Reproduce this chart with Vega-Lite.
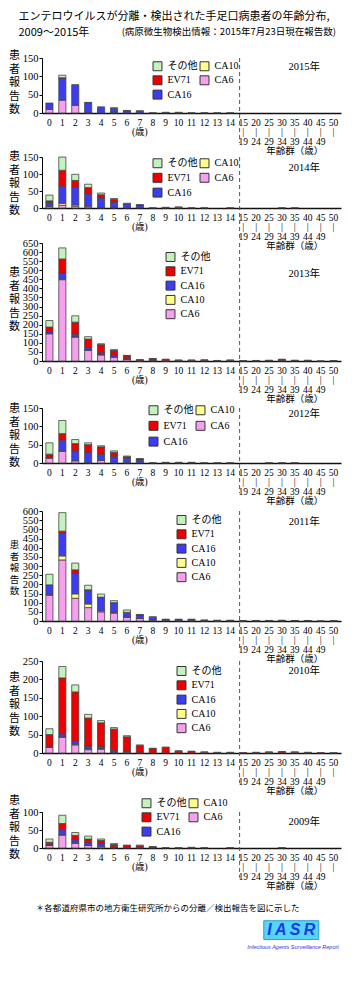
{
"$schema": "https://vega.github.io/schema/vega-lite/v6.json",
"background": "white",
"padding": {"left": 8, "top": 11, "right": 5, "bottom": 5},
"config": {
  "view": {"stroke": null},
  "font": "Liberation Serif, Noto Sans CJK JP",
  "axis": {"labelOverlap": false},
  "axisX": {"title": null, "labelAngle": 0, "labelFont": "Liberation Serif, Noto Sans CJK JP", "labelFontSize": 9.5, "labelLineHeight": 9.5, "labelPadding": 4, "labelBaseline": "top", "ticks": false, "domainColor": "#111", "domainWidth": 1.5, "labelOverlap": false, "labelBound": false, "labelFlush": false, "labelColor": "#000"},
  "axisY": {"grid": false, "labelFont": "Liberation Serif", "labelFontSize": 10.5, "labelColor": "#000", "labelOverlap": false, "labelFlush": false, "tickSize": 3, "tickColor": "#000", "labelPadding": 1, "domainColor": "#000", "titleAngle": 0, "titleX": -28, "titleAlign": "center", "titleBaseline": "top", "titleLineHeight": 13.5, "titleFont": "Noto Sans CJK JP", "titleFontSize": 11, "titleFontWeight": "normal", "titleColor": "#000"},
  "legend": {"orient": "none", "symbolType": "square", "symbolSize": 80, "symbolStrokeColor": "#333", "symbolStrokeWidth": 1, "symbolOpacity": 1, "labelFont": "Liberation Serif, Noto Sans CJK JP", "labelFontSize": 10, "labelColor": "#000", "labelOffset": 5, "rowPadding": 0.3, "columnPadding": 0, "padding": 0}
},
"title": {"text": ["エンテロウイルスが分離・検出された手足口病患者の年齢分布,", "2009〜2015年"], "anchor": "start", "font": "Noto Sans CJK JP", "fontSize": 11, "fontWeight": "normal", "lineHeight": 16, "color": "#000", "dx": 10, "offset": -11},
"data": {"values": [
{"year":2015,"age":"0","CA6":10,"CA10":0,"CA16":16,"EV71":0,"その他":1},
{"year":2015,"age":"1","CA6":35,"CA10":0,"CA16":60,"EV71":1,"その他":7},
{"year":2015,"age":"2","CA6":21,"CA10":0,"CA16":55,"EV71":0,"その他":1},
{"year":2015,"age":"3","CA6":1,"CA10":0,"CA16":27,"EV71":0,"その他":1},
{"year":2015,"age":"4","CA6":0,"CA10":0,"CA16":15,"EV71":0,"その他":2},
{"year":2015,"age":"5","CA6":1,"CA10":0,"CA16":12,"EV71":0,"その他":1},
{"year":2015,"age":"6","CA6":0,"CA10":0,"CA16":6,"EV71":0,"その他":1},
{"year":2015,"age":"7","CA6":0,"CA10":0,"CA16":5,"EV71":0,"その他":1},
{"year":2015,"age":"8","CA6":0,"CA10":0,"CA16":0,"EV71":0,"その他":1},
{"year":2015,"age":"9","CA6":0,"CA10":0,"CA16":1,"EV71":0,"その他":1},
{"year":2015,"age":"10","CA6":0,"CA10":0,"CA16":1,"EV71":0,"その他":1},
{"year":2015,"age":"11","CA6":0,"CA10":0,"CA16":0,"EV71":0,"その他":1},
{"year":2015,"age":"12","CA6":0,"CA10":0,"CA16":0,"EV71":0,"その他":1},
{"year":2015,"age":"13","CA6":0,"CA10":0,"CA16":0,"EV71":0,"その他":1},
{"year":2015,"age":"14","CA6":0,"CA10":0,"CA16":0,"EV71":0,"その他":1},
{"year":2014,"age":"0","CA6":4,"CA10":2,"CA16":10,"EV71":5,"その他":17},
{"year":2014,"age":"1","CA6":8,"CA10":6,"CA16":50,"EV71":47,"その他":39},
{"year":2014,"age":"2","CA6":5,"CA10":4,"CA16":52,"EV71":20,"その他":18},
{"year":2014,"age":"3","CA6":1,"CA10":4,"CA16":36,"EV71":19,"その他":10},
{"year":2014,"age":"4","CA6":1,"CA10":0,"CA16":28,"EV71":10,"その他":5},
{"year":2014,"age":"5","CA6":2,"CA10":0,"CA16":15,"EV71":8,"その他":3},
{"year":2014,"age":"6","CA6":0,"CA10":0,"CA16":12,"EV71":0,"その他":2},
{"year":2014,"age":"7","CA6":0,"CA10":0,"CA16":7,"EV71":2,"その他":1},
{"year":2014,"age":"8","CA6":0,"CA10":0,"CA16":0,"EV71":0,"その他":1},
{"year":2014,"age":"9","CA6":0,"CA10":0,"CA16":1,"EV71":0,"その他":1},
{"year":2014,"age":"10","CA6":0,"CA10":0,"CA16":0,"EV71":2,"その他":1},
{"year":2014,"age":"11","CA6":0,"CA10":0,"CA16":0,"EV71":0,"その他":1},
{"year":2014,"age":"12","CA6":0,"CA10":0,"CA16":0,"EV71":0,"その他":1},
{"year":2014,"age":"14","CA6":0,"CA10":0,"CA16":0,"EV71":0,"その他":1},
{"year":2014,"age":"30","CA6":0,"CA10":0,"CA16":0,"EV71":0,"その他":1},
{"year":2014,"age":"35","CA6":0,"CA10":0,"CA16":0,"EV71":0,"その他":1},
{"year":2013,"age":"0","CA6":150,"CA10":2,"CA16":10,"EV71":25,"その他":36},
{"year":2013,"age":"1","CA6":448,"CA10":4,"CA16":32,"EV71":78,"その他":61},
{"year":2013,"age":"2","CA6":132,"CA10":2,"CA16":14,"EV71":66,"その他":35},
{"year":2013,"age":"3","CA6":58,"CA10":1,"CA16":14,"EV71":48,"その他":13},
{"year":2013,"age":"4","CA6":34,"CA10":1,"CA16":11,"EV71":44,"その他":5},
{"year":2013,"age":"5","CA6":20,"CA10":0,"CA16":11,"EV71":28,"その他":3},
{"year":2013,"age":"6","CA6":8,"CA10":0,"CA16":5,"EV71":16,"その他":2},
{"year":2013,"age":"7","CA6":1,"CA10":0,"CA16":0,"EV71":5,"その他":2},
{"year":2013,"age":"8","CA6":2,"CA10":0,"CA16":0,"EV71":10,"その他":2},
{"year":2013,"age":"9","CA6":1,"CA10":0,"CA16":0,"EV71":7,"その他":2},
{"year":2013,"age":"10","CA6":0,"CA10":0,"CA16":0,"EV71":4,"その他":1},
{"year":2013,"age":"11","CA6":0,"CA10":0,"CA16":0,"EV71":4,"その他":1},
{"year":2013,"age":"12","CA6":0,"CA10":0,"CA16":0,"EV71":5,"その他":1},
{"year":2013,"age":"13","CA6":0,"CA10":0,"CA16":0,"EV71":2,"その他":1},
{"year":2013,"age":"14","CA6":0,"CA10":0,"CA16":0,"EV71":4,"その他":1},
{"year":2013,"age":"15","CA6":0,"CA10":0,"CA16":0,"EV71":1,"その他":1},
{"year":2013,"age":"20","CA6":0,"CA10":0,"CA16":0,"EV71":2,"その他":1},
{"year":2013,"age":"25","CA6":0,"CA10":0,"CA16":0,"EV71":3,"その他":1},
{"year":2013,"age":"30","CA6":2,"CA10":0,"CA16":0,"EV71":6,"その他":2},
{"year":2013,"age":"35","CA6":0,"CA10":0,"CA16":0,"EV71":3,"その他":1},
{"year":2013,"age":"40","CA6":0,"CA10":0,"CA16":0,"EV71":3,"その他":1},
{"year":2013,"age":"45","CA6":0,"CA10":0,"CA16":0,"EV71":0,"その他":1},
{"year":2013,"age":"50","CA6":0,"CA10":0,"CA16":0,"EV71":1,"その他":1},
{"year":2012,"age":"0","CA6":13,"CA10":0,"CA16":2,"EV71":9,"その他":31},
{"year":2012,"age":"1","CA6":32,"CA10":1,"CA16":29,"EV71":18,"その他":36},
{"year":2012,"age":"2","CA6":6,"CA10":0,"CA16":27,"EV71":20,"その他":11},
{"year":2012,"age":"3","CA6":1,"CA10":0,"CA16":28,"EV71":21,"その他":5},
{"year":2012,"age":"4","CA6":7,"CA10":0,"CA16":17,"EV71":20,"その他":3},
{"year":2012,"age":"5","CA6":0,"CA10":0,"CA16":17,"EV71":12,"その他":4},
{"year":2012,"age":"6","CA6":1,"CA10":0,"CA16":12,"EV71":4,"その他":2},
{"year":2012,"age":"7","CA6":0,"CA10":0,"CA16":8,"EV71":3,"その他":1},
{"year":2012,"age":"8","CA6":0,"CA10":0,"CA16":0,"EV71":0,"その他":1},
{"year":2012,"age":"9","CA6":0,"CA10":0,"CA16":1,"EV71":0,"その他":1},
{"year":2012,"age":"10","CA6":0,"CA10":0,"CA16":1,"EV71":0,"その他":1},
{"year":2012,"age":"11","CA6":0,"CA10":0,"CA16":1,"EV71":0,"その他":1},
{"year":2012,"age":"12","CA6":0,"CA10":0,"CA16":0,"EV71":0,"その他":1},
{"year":2012,"age":"13","CA6":0,"CA10":0,"CA16":0,"EV71":0,"その他":1},
{"year":2012,"age":"14","CA6":0,"CA10":0,"CA16":0,"EV71":0,"その他":1},
{"year":2012,"age":"25","CA6":0,"CA10":0,"CA16":0,"EV71":0,"その他":1},
{"year":2012,"age":"30","CA6":0,"CA10":0,"CA16":0,"EV71":0,"その他":1},
{"year":2012,"age":"35","CA6":0,"CA10":0,"CA16":0,"EV71":0,"その他":1},
{"year":2011,"age":"0","CA6":140,"CA10":4,"CA16":53,"EV71":0,"その他":58},
{"year":2011,"age":"1","CA6":333,"CA10":22,"CA16":124,"EV71":11,"その他":101},
{"year":2011,"age":"2","CA6":124,"CA10":24,"CA16":111,"EV71":20,"その他":37},
{"year":2011,"age":"3","CA6":73,"CA10":20,"CA16":75,"EV71":2,"その他":25},
{"year":2011,"age":"4","CA6":50,"CA10":5,"CA16":73,"EV71":2,"その他":17},
{"year":2011,"age":"5","CA6":42,"CA10":5,"CA16":53,"EV71":0,"その他":11},
{"year":2011,"age":"6","CA6":20,"CA10":2,"CA16":25,"EV71":0,"その他":13},
{"year":2011,"age":"7","CA6":14,"CA10":0,"CA16":18,"EV71":1,"その他":3},
{"year":2011,"age":"8","CA6":4,"CA10":0,"CA16":15,"EV71":0,"その他":5},
{"year":2011,"age":"9","CA6":2,"CA10":0,"CA16":5,"EV71":1,"その他":2},
{"year":2011,"age":"10","CA6":2,"CA10":0,"CA16":5,"EV71":1,"その他":2},
{"year":2011,"age":"11","CA6":2,"CA10":0,"CA16":5,"EV71":1,"その他":2},
{"year":2011,"age":"12","CA6":1,"CA10":0,"CA16":3,"EV71":0,"その他":1},
{"year":2011,"age":"13","CA6":1,"CA10":0,"CA16":2,"EV71":0,"その他":1},
{"year":2011,"age":"14","CA6":0,"CA10":0,"CA16":3,"EV71":0,"その他":1},
{"year":2011,"age":"15","CA6":0,"CA10":0,"CA16":1,"EV71":0,"その他":1},
{"year":2011,"age":"20","CA6":0,"CA10":0,"CA16":2,"EV71":0,"その他":1},
{"year":2011,"age":"25","CA6":0,"CA10":0,"CA16":2,"EV71":0,"その他":1},
{"year":2011,"age":"30","CA6":0,"CA10":0,"CA16":3,"EV71":0,"その他":1},
{"year":2011,"age":"35","CA6":0,"CA10":0,"CA16":2,"EV71":0,"その他":1},
{"year":2011,"age":"40","CA6":0,"CA10":0,"CA16":2,"EV71":0,"その他":1},
{"year":2011,"age":"45","CA6":0,"CA10":0,"CA16":1,"EV71":0,"その他":0},
{"year":2011,"age":"50","CA6":0,"CA10":0,"CA16":1,"EV71":0,"その他":1},
{"year":2010,"age":"0","CA6":15,"CA10":0,"CA16":2,"EV71":33,"その他":16},
{"year":2010,"age":"1","CA6":43,"CA10":1,"CA16":8,"EV71":152,"その他":31},
{"year":2010,"age":"2","CA6":22,"CA10":2,"CA16":8,"EV71":134,"その他":19},
{"year":2010,"age":"3","CA6":9,"CA10":2,"CA16":7,"EV71":77,"その他":10},
{"year":2010,"age":"4","CA6":10,"CA10":2,"CA16":6,"EV71":64,"その他":6},
{"year":2010,"age":"5","CA6":1,"CA10":0,"CA16":6,"EV71":58,"その他":4},
{"year":2010,"age":"6","CA6":2,"CA10":0,"CA16":3,"EV71":39,"その他":3},
{"year":2010,"age":"7","CA6":1,"CA10":0,"CA16":0,"EV71":19,"その他":2},
{"year":2010,"age":"8","CA6":0,"CA10":0,"CA16":0,"EV71":12,"その他":1},
{"year":2010,"age":"9","CA6":0,"CA10":0,"CA16":0,"EV71":15,"その他":1},
{"year":2010,"age":"10","CA6":0,"CA10":0,"CA16":0,"EV71":5,"その他":1},
{"year":2010,"age":"11","CA6":0,"CA10":0,"CA16":0,"EV71":4,"その他":1},
{"year":2010,"age":"12","CA6":0,"CA10":0,"CA16":0,"EV71":2,"その他":1},
{"year":2010,"age":"13","CA6":0,"CA10":0,"CA16":0,"EV71":1,"その他":1},
{"year":2010,"age":"14","CA6":0,"CA10":0,"CA16":0,"EV71":1,"その他":1},
{"year":2010,"age":"15","CA6":0,"CA10":0,"CA16":0,"EV71":1,"その他":0},
{"year":2010,"age":"20","CA6":0,"CA10":0,"CA16":0,"EV71":1,"その他":1},
{"year":2010,"age":"25","CA6":0,"CA10":0,"CA16":0,"EV71":2,"その他":1},
{"year":2010,"age":"30","CA6":0,"CA10":0,"CA16":0,"EV71":3,"その他":1},
{"year":2010,"age":"35","CA6":0,"CA10":0,"CA16":0,"EV71":2,"その他":1},
{"year":2010,"age":"40","CA6":0,"CA10":0,"CA16":0,"EV71":1,"その他":1},
{"year":2010,"age":"45","CA6":0,"CA10":0,"CA16":0,"EV71":1,"その他":0},
{"year":2010,"age":"50","CA6":0,"CA10":0,"CA16":0,"EV71":0,"その他":1},
{"year":2009,"age":"0","CA6":7,"CA10":0,"CA16":2,"EV71":7,"その他":9},
{"year":2009,"age":"1","CA6":36,"CA10":1,"CA16":14,"EV71":17,"その他":23},
{"year":2009,"age":"2","CA6":13,"CA10":1,"CA16":9,"EV71":12,"その他":8},
{"year":2009,"age":"3","CA6":7,"CA10":0,"CA16":8,"EV71":10,"その他":8},
{"year":2009,"age":"4","CA6":3,"CA10":0,"CA16":9,"EV71":9,"その他":4},
{"year":2009,"age":"5","CA6":1,"CA10":0,"CA16":2,"EV71":7,"その他":2},
{"year":2009,"age":"6","CA6":0,"CA10":0,"CA16":1,"EV71":6,"その他":1},
{"year":2009,"age":"7","CA6":0,"CA10":0,"CA16":0,"EV71":6,"その他":2},
{"year":2009,"age":"8","CA6":0,"CA10":0,"CA16":0,"EV71":3,"その他":1},
{"year":2009,"age":"9","CA6":0,"CA10":0,"CA16":0,"EV71":1,"その他":0},
{"year":2009,"age":"10","CA6":0,"CA10":0,"CA16":0,"EV71":1,"その他":0},
{"year":2009,"age":"11","CA6":0,"CA10":0,"CA16":0,"EV71":1,"その他":1},
{"year":2009,"age":"12","CA6":0,"CA10":0,"CA16":0,"EV71":1,"その他":0},
{"year":2009,"age":"14","CA6":0,"CA10":0,"CA16":0,"EV71":1,"その他":0},
{"year":2009,"age":"30","CA6":0,"CA10":0,"CA16":0,"EV71":1,"その他":0}
]},
"bounds": "flush",
"spacing": 35,
"resolve": {"scale": {"x": "independent", "y": "independent", "color": "independent"}, "legend": {"color": "independent"}},
"vconcat": [
{"width": 299, "height": 55,
 "title": {"text": "(病原微生物検出情報：2015年7月23日現在報告数)", "anchor": "end", "frame": "group", "dx": -5, "offset": 13, "font": "Noto Sans CJK JP", "fontSize": 9.5, "fontWeight": "normal", "color": "#000"},
 "layer": [
  {"transform": [{"filter": "datum.year == 2015"}, {"fold": ["CA6","CA10","CA16","EV71","その他"], "as": ["type","n"]}, {"filter": "datum.n > 0"}, {"calculate": "indexof(['CA6','CA10','CA16','EV71','その他'], datum.type)", "as": "stackOrder"}],
   "mark": {"type": "bar", "stroke": "#444", "strokeWidth": 0.8},
   "encoding": {
    "x": {"field": "age", "type": "nominal", "sort": null, "scale": {"domain": ["0","1","2","3","4","5","6","7","8","9","10","11","12","13","14","15","20","25","30","35","40","45","50"], "paddingInner": 0.45, "paddingOuter": 0.3}, "axis": {"labelExpr": "datum.value == '7' ? ['7', '(歳)'] : datum.value == '35' ? ['35', '|', '39', '年齢群（歳）'] : datum.value == '50' ? ['50', '|'] : toNumber(datum.value) >= 15 ? [datum.value, '|', toString(toNumber(datum.value) + 4)] : datum.value"}},
    "y": {"field": "n", "type": "quantitative", "stack": "zero", "scale": {"domain": [0, 150], "nice": false}, "axis": {"values": [0,50,100,150], "labelOverlap": false, "labelFlush": false, "title": ["患","者","報","告","数"], "titleY": -8.5}},
    "color": {"field": "type", "type": "nominal", "scale": {"domain": ["その他","EV71","CA16","CA10","CA6"], "range": ["#c4f2bf","#ee0000","#3c3cf0","#ffff8c","#f7a0f0"]}, "legend": {"title": null, "columns": 2, "legendX": 110.5, "legendY": 3}},
    "order": {"field": "stackOrder", "type": "quantitative"}
   }},
  {"data": {"values": [{}]}, "mark": {"type": "rule", "strokeDash": [4, 3], "color": "#555", "strokeWidth": 1}, "encoding": {"x": {"datum": "15", "bandPosition": 0}, "y": {"datum": 150, "axis": {"values": [0,50,100,150], "labelOverlap": false, "labelFlush": false, "title": ["患","者","報","告","数"], "titleY": -8.5}}, "y2": {"datum": -82}}},
  {"data": {"values": [{}]}, "mark": {"type": "text", "text": "2015年", "fontSize": 10.5, "font": "Liberation Serif, Noto Sans CJK JP", "color": "#000"}, "encoding": {"x": {"datum": "40", "bandPosition": 0}, "y": {"datum": 125, "axis": {"values": [0,50,100,150], "labelOverlap": false, "labelFlush": false, "title": ["患","者","報","告","数"], "titleY": -8.5}}}}
]},
{"width": 299, "height": 60, "layer": [
  {"transform": [{"filter": "datum.year == 2014"}, {"fold": ["CA6","CA10","CA16","EV71","その他"], "as": ["type","n"]}, {"filter": "datum.n > 0"}, {"calculate": "indexof(['CA6','CA10','CA16','EV71','その他'], datum.type)", "as": "stackOrder"}],
   "mark": {"type": "bar", "stroke": "#444", "strokeWidth": 0.8},
   "encoding": {
    "x": {"field": "age", "type": "nominal", "sort": null, "scale": {"domain": ["0","1","2","3","4","5","6","7","8","9","10","11","12","13","14","15","20","25","30","35","40","45","50"], "paddingInner": 0.45, "paddingOuter": 0.3}, "axis": {"labelExpr": "datum.value == '7' ? ['7', '(歳)'] : datum.value == '35' ? ['35', '|', '39', '年齢群（歳）'] : datum.value == '50' ? ['50', '|'] : toNumber(datum.value) >= 15 ? [datum.value, '|', toString(toNumber(datum.value) + 4)] : datum.value"}},
    "y": {"field": "n", "type": "quantitative", "stack": "zero", "scale": {"domain": [0, 150], "nice": false, "range": [60, 9]}, "axis": {"values": [0,50,100,150], "labelOverlap": false, "labelFlush": false, "title": ["患","者","報","告","数"], "titleY": 2.5}},
    "color": {"field": "type", "type": "nominal", "scale": {"domain": ["その他","EV71","CA16","CA10","CA6"], "range": ["#c4f2bf","#ee0000","#3c3cf0","#ffff8c","#f7a0f0"]}, "legend": {"title": null, "columns": 2, "legendX": 110.5, "legendY": 10, "rowPadding": 0.8}},
    "order": {"field": "stackOrder", "type": "quantitative"}
   }},
  {"data": {"values": [{}]}, "mark": {"type": "rule", "strokeDash": [4, 3], "color": "#555", "strokeWidth": 1}, "encoding": {"x": {"datum": "15", "bandPosition": 0}, "y": {"datum": 150, "axis": {"values": [0,50,100,150], "labelOverlap": false, "labelFlush": false, "title": ["患","者","報","告","数"], "titleY": 2.5}}, "y2": {"datum": -88}}},
  {"data": {"values": [{}]}, "mark": {"type": "text", "text": "2014年", "fontSize": 10.5, "font": "Liberation Serif, Noto Sans CJK JP", "color": "#000"}, "encoding": {"x": {"datum": "40", "bandPosition": 0}, "y": {"datum": 118, "axis": {"values": [0,50,100,150], "labelOverlap": false, "labelFlush": false, "title": ["患","者","報","告","数"], "titleY": 2.5}}}}
]},
{"width": 299, "height": 118, "layer": [
  {"transform": [{"filter": "datum.year == 2013"}, {"fold": ["CA6","CA10","CA16","EV71","その他"], "as": ["type","n"]}, {"filter": "datum.n > 0"}, {"calculate": "indexof(['CA6','CA10','CA16','EV71','その他'], datum.type)", "as": "stackOrder"}],
   "mark": {"type": "bar", "stroke": "#444", "strokeWidth": 0.8},
   "encoding": {
    "x": {"field": "age", "type": "nominal", "sort": null, "scale": {"domain": ["0","1","2","3","4","5","6","7","8","9","10","11","12","13","14","15","20","25","30","35","40","45","50"], "paddingInner": 0.45, "paddingOuter": 0.3}, "axis": {"labelExpr": "datum.value == '7' ? ['7', '(歳)'] : datum.value == '35' ? ['35', '|', '39', '年齢群（歳）'] : datum.value == '50' ? ['50', '|'] : toNumber(datum.value) >= 15 ? [datum.value, '|', toString(toNumber(datum.value) + 4)] : datum.value"}},
    "y": {"field": "n", "type": "quantitative", "stack": "zero", "scale": {"domain": [0, 650], "nice": false}, "axis": {"values": [0,50,100,150,200,250,300,350,400,450,500,550,600,650], "labelOverlap": false, "labelFlush": false, "title": ["患","者","報","告","数"], "titleY": 23.5}},
    "color": {"field": "type", "type": "nominal", "scale": {"domain": ["その他","EV71","CA16","CA10","CA6"], "range": ["#c4f2bf","#ee0000","#3c3cf0","#ffff8c","#f7a0f0"]}, "legend": {"title": null, "columns": 1, "legendX": 123.5, "legendY": 9}},
    "order": {"field": "stackOrder", "type": "quantitative"}
   }},
  {"data": {"values": [{}]}, "mark": {"type": "rule", "strokeDash": [4, 3], "color": "#555", "strokeWidth": 1}, "encoding": {"x": {"datum": "15", "bandPosition": 0}, "y": {"datum": 650, "axis": {"values": [0,50,100,150,200,250,300,350,400,450,500,550,600,650], "labelOverlap": false, "labelFlush": false, "title": ["患","者","報","告","数"], "titleY": 23.5}}, "y2": {"datum": -165}}},
  {"data": {"values": [{}]}, "mark": {"type": "text", "text": "2013年", "fontSize": 10.5, "font": "Liberation Serif, Noto Sans CJK JP", "color": "#000"}, "encoding": {"x": {"datum": "40", "bandPosition": 0}, "y": {"datum": 479, "axis": {"values": [0,50,100,150,200,250,300,350,400,450,500,550,600,650], "labelOverlap": false, "labelFlush": false, "title": ["患","者","報","告","数"], "titleY": 23.5}}}}
]},
{"width": 299, "height": 67, "layer": [
  {"transform": [{"filter": "datum.year == 2012"}, {"fold": ["CA6","CA10","CA16","EV71","その他"], "as": ["type","n"]}, {"filter": "datum.n > 0"}, {"calculate": "indexof(['CA6','CA10','CA16','EV71','その他'], datum.type)", "as": "stackOrder"}],
   "mark": {"type": "bar", "stroke": "#444", "strokeWidth": 0.8},
   "encoding": {
    "x": {"field": "age", "type": "nominal", "sort": null, "scale": {"domain": ["0","1","2","3","4","5","6","7","8","9","10","11","12","13","14","15","20","25","30","35","40","45","50"], "paddingInner": 0.45, "paddingOuter": 0.3}, "axis": {"labelExpr": "datum.value == '7' ? ['7', '(歳)'] : datum.value == '35' ? ['35', '|', '39', '年齢群（歳）'] : datum.value == '50' ? ['50', '|'] : toNumber(datum.value) >= 15 ? [datum.value, '|', toString(toNumber(datum.value) + 4)] : datum.value"}},
    "y": {"field": "n", "type": "quantitative", "stack": "zero", "scale": {"domain": [0, 150], "nice": false, "range": [67, 12]}, "axis": {"values": [0,50,100,150], "labelOverlap": false, "labelFlush": false, "title": ["患","者","報","告","数"], "titleY": 6.5}},
    "color": {"field": "type", "type": "nominal", "scale": {"domain": ["その他","EV71","CA16","CA10","CA6"], "range": ["#c4f2bf","#ee0000","#3c3cf0","#ffff8c","#f7a0f0"]}, "legend": {"title": null, "columns": 2, "legendX": 106.5, "legendY": 9, "rowPadding": 1.8}},
    "order": {"field": "stackOrder", "type": "quantitative"}
   }},
  {"data": {"values": [{}]}, "mark": {"type": "rule", "strokeDash": [4, 3], "color": "#555", "strokeWidth": 1}, "encoding": {"x": {"datum": "15", "bandPosition": 0}, "y": {"datum": 150, "axis": {"values": [0,50,100,150], "labelOverlap": false, "labelFlush": false, "title": ["患","者","報","告","数"], "titleY": 6.5}}, "y2": {"datum": -82}}},
  {"data": {"values": [{}]}, "mark": {"type": "text", "text": "2012年", "fontSize": 10.5, "font": "Liberation Serif, Noto Sans CJK JP", "color": "#000"}, "encoding": {"x": {"datum": "40", "bandPosition": 0}, "y": {"datum": 133, "axis": {"values": [0,50,100,150], "labelOverlap": false, "labelFlush": false, "title": ["患","者","報","告","数"], "titleY": 6.5}}}}
]},
{"width": 299, "height": 123, "layer": [
  {"transform": [{"filter": "datum.year == 2011"}, {"fold": ["CA6","CA10","CA16","EV71","その他"], "as": ["type","n"]}, {"filter": "datum.n > 0"}, {"calculate": "indexof(['CA6','CA10','CA16','EV71','その他'], datum.type)", "as": "stackOrder"}],
   "mark": {"type": "bar", "stroke": "#444", "strokeWidth": 0.8},
   "encoding": {
    "x": {"field": "age", "type": "nominal", "sort": null, "scale": {"domain": ["0","1","2","3","4","5","6","7","8","9","10","11","12","13","14","15","20","25","30","35","40","45","50"], "paddingInner": 0.45, "paddingOuter": 0.3}, "axis": {"labelExpr": "datum.value == '7' ? ['7', '(歳)'] : datum.value == '35' ? ['35', '|', '39', '年齢群（歳）'] : datum.value == '50' ? ['50', '|'] : toNumber(datum.value) >= 15 ? [datum.value, '|', toString(toNumber(datum.value) + 4)] : datum.value"}},
    "y": {"field": "n", "type": "quantitative", "stack": "zero", "scale": {"domain": [0, 600], "nice": false, "range": [123, 13]}, "axis": {"values": [0,50,100,150,200,250,300,350,400,450,500,550,600], "labelOverlap": false, "labelFlush": false, "title": ["患","者","報","告","数"], "titleY": 41.5, "titleLineHeight": 11.5, "titleFontSize": 9.5}},
    "color": {"field": "type", "type": "nominal", "scale": {"domain": ["その他","EV71","CA16","CA10","CA6"], "range": ["#c4f2bf","#ee0000","#3c3cf0","#ffff8c","#f7a0f0"]}, "legend": {"title": null, "columns": 1, "legendX": 134.5, "legendY": 17}},
    "order": {"field": "stackOrder", "type": "quantitative"}
   }},
  {"data": {"values": [{}]}, "mark": {"type": "rule", "strokeDash": [4, 3], "color": "#555", "strokeWidth": 1}, "encoding": {"x": {"datum": "15", "bandPosition": 0}, "y": {"datum": 600, "axis": {"values": [0,50,100,150,200,250,300,350,400,450,500,550,600], "labelOverlap": false, "labelFlush": false, "title": ["患","者","報","告","数"], "titleY": 41.5, "titleLineHeight": 11.5, "titleFontSize": 9.5}}, "y2": {"datum": -164}}},
  {"data": {"values": [{}]}, "mark": {"type": "text", "text": "2011年", "fontSize": 10.5, "font": "Liberation Serif, Noto Sans CJK JP", "color": "#000"}, "encoding": {"x": {"datum": "40", "bandPosition": 0}, "y": {"datum": 540, "axis": {"values": [0,50,100,150,200,250,300,350,400,450,500,550,600], "labelOverlap": false, "labelFlush": false, "title": ["患","者","報","告","数"], "titleY": 41.5, "titleLineHeight": 11.5, "titleFontSize": 9.5}}}}
]},
{"width": 299, "height": 97, "layer": [
  {"transform": [{"filter": "datum.year == 2010"}, {"fold": ["CA6","CA10","CA16","EV71","その他"], "as": ["type","n"]}, {"filter": "datum.n > 0"}, {"calculate": "indexof(['CA6','CA10','CA16','EV71','その他'], datum.type)", "as": "stackOrder"}],
   "mark": {"type": "bar", "stroke": "#444", "strokeWidth": 0.8},
   "encoding": {
    "x": {"field": "age", "type": "nominal", "sort": null, "scale": {"domain": ["0","1","2","3","4","5","6","7","8","9","10","11","12","13","14","15","20","25","30","35","40","45","50"], "paddingInner": 0.45, "paddingOuter": 0.3}, "axis": {"labelExpr": "datum.value == '7' ? ['7', '(歳)'] : datum.value == '35' ? ['35', '|', '39', '年齢群（歳）'] : datum.value == '50' ? ['50', '|'] : toNumber(datum.value) >= 15 ? [datum.value, '|', toString(toNumber(datum.value) + 4)] : datum.value"}},
    "y": {"field": "n", "type": "quantitative", "stack": "zero", "scale": {"domain": [0, 250], "nice": false, "range": [97, 5]}, "axis": {"values": [0,50,100,150,200,250], "labelOverlap": false, "labelFlush": false, "title": ["患","者","報","告","数"], "titleY": 15.5}},
    "color": {"field": "type", "type": "nominal", "scale": {"domain": ["その他","EV71","CA16","CA10","CA6"], "range": ["#c4f2bf","#ee0000","#3c3cf0","#ffff8c","#f7a0f0"]}, "legend": {"title": null, "columns": 1, "legendX": 134.5, "legendY": 10}},
    "order": {"field": "stackOrder", "type": "quantitative"}
   }},
  {"data": {"values": [{}]}, "mark": {"type": "rule", "strokeDash": [4, 3], "color": "#555", "strokeWidth": 1}, "encoding": {"x": {"datum": "15", "bandPosition": 0}, "y": {"datum": 250, "axis": {"values": [0,50,100,150,200,250], "labelOverlap": false, "labelFlush": false, "title": ["患","者","報","告","数"], "titleY": 15.5}}, "y2": {"datum": -82}}},
  {"data": {"values": [{}]}, "mark": {"type": "text", "text": "2010年", "fontSize": 10.5, "font": "Liberation Serif, Noto Sans CJK JP", "color": "#000"}, "encoding": {"x": {"datum": "40", "bandPosition": 0}, "y": {"datum": 223, "axis": {"values": [0,50,100,150,200,250], "labelOverlap": false, "labelFlush": false, "title": ["患","者","報","告","数"], "titleY": 15.5}}}}
]},
{"width": 299, "height": 60, "layer": [
  {"transform": [{"filter": "datum.year == 2009"}, {"fold": ["CA6","CA10","CA16","EV71","その他"], "as": ["type","n"]}, {"filter": "datum.n > 0"}, {"calculate": "indexof(['CA6','CA10','CA16','EV71','その他'], datum.type)", "as": "stackOrder"}],
   "mark": {"type": "bar", "stroke": "#444", "strokeWidth": 0.8},
   "encoding": {
    "x": {"field": "age", "type": "nominal", "sort": null, "scale": {"domain": ["0","1","2","3","4","5","6","7","8","9","10","11","12","13","14","15","20","25","30","35","40","45","50"], "paddingInner": 0.45, "paddingOuter": 0.3}, "axis": {"labelExpr": "datum.value == '7' ? ['7', '(歳)'] : datum.value == '35' ? ['35', '|', '39', '年齢群（歳）'] : datum.value == '50' ? ['50', '|'] : toNumber(datum.value) >= 15 ? [datum.value, '|', toString(toNumber(datum.value) + 4)] : datum.value"}},
    "y": {"field": "n", "type": "quantitative", "stack": "zero", "scale": {"domain": [0, 100], "nice": false, "range": [60, 24]}, "axis": {"values": [0,50,100], "labelOverlap": false, "labelFlush": false, "title": ["患","者","報","告","数"], "titleY": 6.5}},
    "color": {"field": "type", "type": "nominal", "scale": {"domain": ["その他","EV71","CA16","CA10","CA6"], "range": ["#c4f2bf","#ee0000","#3c3cf0","#ffff8c","#f7a0f0"]}, "legend": {"title": null, "columns": 2, "legendX": 99.5, "legendY": 10}},
    "order": {"field": "stackOrder", "type": "quantitative"}
   }},
  {"data": {"values": [{}]}, "mark": {"type": "rule", "strokeDash": [4, 3], "color": "#555", "strokeWidth": 1}, "encoding": {"x": {"datum": "15", "bandPosition": 0}, "y": {"datum": 100, "axis": {"values": [0,50,100], "labelOverlap": false, "labelFlush": false, "title": ["患","者","報","告","数"], "titleY": 6.5}}, "y2": {"datum": -83}}},
  {"data": {"values": [{}]}, "mark": {"type": "text", "text": "2009年", "fontSize": 10.5, "font": "Liberation Serif, Noto Sans CJK JP", "color": "#000"}, "encoding": {"x": {"datum": "40", "bandPosition": 0}, "y": {"datum": 72, "axis": {"values": [0,50,100], "labelOverlap": false, "labelFlush": false, "title": ["患","者","報","告","数"], "titleY": 6.5}}}},
  {"data": {"values": [{}]}, "mark": {"type": "text", "text": "＊各都道府県市の地方衛生研究所からの分離／検出報告を図に示した", "fontSize": 8.5, "font": "Noto Sans CJK JP", "align": "left", "dx": -10, "color": "#000"}, "encoding": {"x": {"datum": "0", "bandPosition": 0}, "y": {"datum": -167, "axis": {"values": [0,50,100], "labelOverlap": false, "labelFlush": false, "title": ["患","者","報","告","数"], "titleY": 6.5}}}},
  {"data": {"values": [{}]}, "mark": {"type": "point", "shape": "M-1,-0.34H1V0.34H-1Z", "size": 3025, "filled": true, "fill": "#55d6f6", "stroke": "#2b9fd0", "strokeWidth": 1, "opacity": 1}, "encoding": {"x": {"datum": "35", "bandPosition": 0}, "y": {"datum": -228, "axis": {"values": [0,50,100], "labelOverlap": false, "labelFlush": false, "title": ["患","者","報","告","数"], "titleY": 6.5}}}},
  {"data": {"values": [{}]}, "mark": {"type": "text", "text": "I\u2009A\u2009S\u2009R", "fontSize": 16, "font": "Liberation Sans", "fontWeight": "bold", "fontStyle": "italic", "color": "#1a3ae8", "baseline": "middle"}, "encoding": {"x": {"datum": "35", "bandPosition": 0}, "y": {"datum": -228, "axis": {"values": [0,50,100], "labelOverlap": false, "labelFlush": false, "title": ["患","者","報","告","数"], "titleY": 6.5}}}},
  {"data": {"values": [{}]}, "mark": {"type": "text", "text": "Infectious Agents Surveillance Report", "fontSize": 5.5, "font": "Liberation Sans", "fontStyle": "italic", "color": "#3333cc"}, "encoding": {"x": {"datum": "35", "bandPosition": 0.25}, "y": {"datum": -275, "axis": {"values": [0,50,100], "labelOverlap": false, "labelFlush": false, "title": ["患","者","報","告","数"], "titleY": 6.5}}}}
]}
]
}
